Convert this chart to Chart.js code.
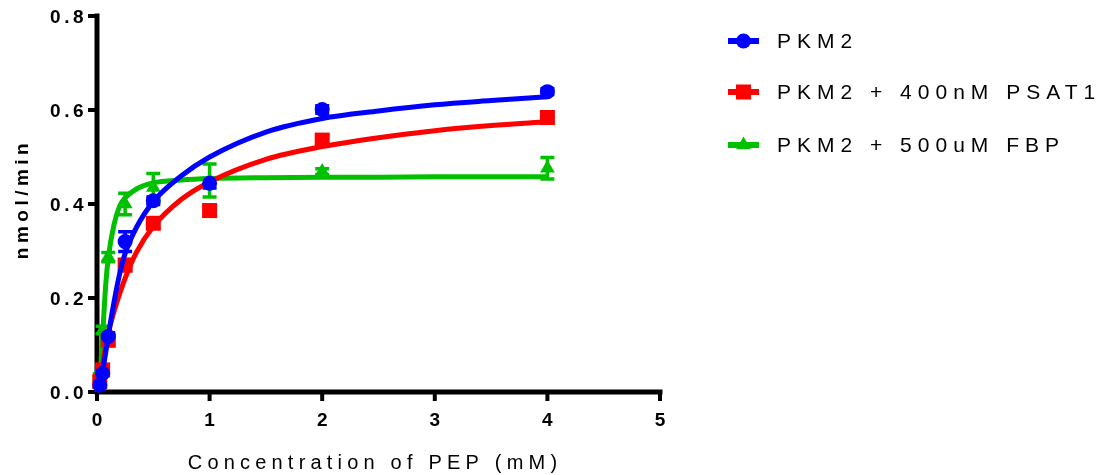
<!DOCTYPE html>
<html>
<head>
<meta charset="utf-8">
<script src="https://cdn.jsdelivr.net/npm/chart.js@4/dist/chart.umd.min.js"></script>
<style>
  html, body { margin: 0; padding: 0; background: #fff; }
  canvas { display: block; }
</style>
</head>
<body>
<canvas id="kinetics" width="1104" height="475"></canvas>
<script>
const pepConc = [0.025, 0.05, 0.1, 0.25, 0.5, 1, 2, 4];

const pkm2Rate = [0.015, 0.040, 0.118, 0.320, 0.407, 0.444, 0.601, 0.639];
const pkm2Err = [0.004, 0.005, 0.008, 0.021, 0.008, 0.010, 0.008, 0.006];

const psat1Rate = [0.022, 0.047, 0.110, 0.270, 0.359, 0.386, 0.536, 0.584];
const psat1Err = [0.004, 0.006, 0.010, 0.012, 0.010, 0.012, 0.010, 0.012];

const fbpRate = [0.035, 0.132, 0.287, 0.400, 0.435, 0.450, 0.469, 0.476];
const fbpErr = [0.004, 0.008, 0.010, 0.023, 0.030, 0.035, 0.006, 0.023];

// fitted curves
const fitConc = [0, 0.025, 0.05, 0.075, 0.1, 0.15, 0.2, 0.25, 0.35, 0.5, 0.75, 1, 1.5, 2, 2.5, 3, 3.5, 4];
const pkm2Fit = [0, 0.018, 0.045, 0.080, 0.120, 0.190, 0.250, 0.295, 0.350, 0.405, 0.460, 0.500, 0.553, 0.582, 0.598, 0.611, 0.620, 0.628];
const psat1Fit = [0, 0.020, 0.060, 0.095, 0.125, 0.170, 0.208, 0.242, 0.297, 0.352, 0.410, 0.447, 0.495, 0.522, 0.541, 0.556, 0.567, 0.575];
const fbpFit = [0, 0.030, 0.120, 0.220, 0.285, 0.355, 0.395, 0.413, 0.432, 0.445, 0.451, 0.454, 0.456, 0.457, 0.457, 0.458, 0.458, 0.458];

const seriesLabels = ['PKM2', 'PKM2 + 400nM PSAT1', 'PKM2 + 500uM FBP'];
const seriesColors = ['#0000FF', '#FF0000', '#00C000'];
const seriesShapes = ['circle', 'rect', 'triangle'];
const shapeRadius = [7.5, 10.6, 8.5];

const xTicks = [0, 1, 2, 3, 4, 5];
const yTicks = [0, 0.2, 0.4, 0.6, 0.8];
const xTitle = 'Concentration of PEP (mM)';
const yTitle = 'nmol/min';

const FONT = '"Liberation Sans", Arial, sans-serif';

function pts(xs, ys) {
    return xs.map((x, i) => ({ x: x, y: ys[i] }));
}

const rates = [pkm2Rate, psat1Rate, fbpRate];
const errs = [pkm2Err, psat1Err, fbpErr];
const fits = [pkm2Fit, psat1Fit, fbpFit];

const datasets = [];
seriesLabels.forEach((label, i) => {
    // points first so they sit above their own curve
    datasets.push({
        label: label,
        isPoints: true,
        data: pts(pepConc, rates[i]),
        errors: errs[i],
        showLine: false,
        pointStyle: seriesShapes[i],
        pointRadius: shapeRadius[i],
        pointBackgroundColor: seriesColors[i],
        pointBorderWidth: 0,
        borderColor: seriesColors[i],
        clip: false
    });
    datasets.push({
        label: label + ' fit',
        data: pts(fitConc, fits[i]),
        showLine: true,
        borderColor: seriesColors[i],
        borderWidth: 5,
        pointRadius: 0,
        cubicInterpolationMode: 'monotone',
        clip: false
    });
});

const decor = {
    id: 'decor',
    beforeDatasetsDraw(chart) {
        const { ctx, scales: { x, y } } = chart;
        const x0 = x.getPixelForValue(0);
        const y0 = y.getPixelForValue(0);
        ctx.save();
        ctx.strokeStyle = '#000';
        ctx.lineCap = 'butt';

        // axis lines
        ctx.lineWidth = 5;
        ctx.beginPath();
        ctx.moveTo(x0, y.getPixelForValue(0.8) - 2.5);
        ctx.lineTo(x0, y0 + 2.5);
        ctx.moveTo(x0 - 2.5, y0);
        ctx.lineTo(x.getPixelForValue(5) + 2.5, y0);
        ctx.stroke();

        // tick marks
        ctx.lineWidth = 4;
        ctx.beginPath();
        yTicks.forEach(v => {
            const py = y.getPixelForValue(v);
            ctx.moveTo(x0 - 9, py);
            ctx.lineTo(x0, py);
        });
        xTicks.forEach(v => {
            const px = x.getPixelForValue(v);
            ctx.moveTo(px, y0);
            ctx.lineTo(px, y0 + 9);
        });
        ctx.stroke();

        // error bars
        chart.data.datasets.forEach(ds => {
            if (!ds.errors) return;
            ctx.strokeStyle = ds.borderColor;
            ctx.lineWidth = 3.5;
            ds.data.forEach((p, i) => {
                const e = ds.errors[i];
                const px = x.getPixelForValue(p.x);
                const top = y.getPixelForValue(p.y + e);
                const bot = y.getPixelForValue(p.y - e);
                ctx.beginPath();
                ctx.moveTo(px, top);
                ctx.lineTo(px, bot);
                ctx.moveTo(px - 7, top);
                ctx.lineTo(px + 7, top);
                ctx.moveTo(px - 7, bot);
                ctx.lineTo(px + 7, bot);
                ctx.stroke();
            });
        });
        ctx.restore();
    },
    afterDraw(chart) {
        const { ctx, scales: { x, y } } = chart;
        const x0 = x.getPixelForValue(0);
        const y0 = y.getPixelForValue(0);
        ctx.save();
        ctx.fillStyle = '#000';

        // tick labels
        ctx.font = 'bold 19px ' + FONT;
        ctx.letterSpacing = '3.5px';
        ctx.textAlign = 'right';
        ctx.textBaseline = 'middle';
        yTicks.forEach(v => {
            ctx.fillText(v.toFixed(1), x0 - 10, y.getPixelForValue(v) + 2);
        });
        ctx.letterSpacing = '0px';
        ctx.textAlign = 'center';
        xTicks.forEach(v => {
            ctx.fillText(String(v), x.getPixelForValue(v), y0 + 29);
        });

        // axis titles
        ctx.font = '20px ' + FONT;
        ctx.letterSpacing = '5.2px';
        ctx.fillText(xTitle, 375, 463);

        ctx.save();
        ctx.translate(23, 199);
        ctx.rotate(-Math.PI / 2);
        ctx.font = 'bold 19px ' + FONT;
        ctx.letterSpacing = '4.5px';
        ctx.fillText(yTitle, 0, 0);
        ctx.restore();

        // legend
        const rowY = [41, 92, 145];
        chart.data.datasets.filter(ds => ds.isPoints).forEach((ds, k) => {
            const ly = rowY[k];
            ctx.strokeStyle = ds.borderColor;
            ctx.lineWidth = 6;
            ctx.beginPath();
            ctx.moveTo(728, ly);
            ctx.lineTo(759, ly);
            ctx.stroke();
            ctx.fillStyle = ds.pointBackgroundColor;
            Chart.helpers.drawPoint(ctx, {
                pointStyle: ds.pointStyle,
                radius: ds.pointRadius,
                rotation: 0,
                borderWidth: 0
            }, 743.5, ly);
            ctx.fillStyle = '#000';
            ctx.font = '21px ' + FONT;
            ctx.letterSpacing = '6px';
            ctx.textAlign = 'left';
            ctx.textBaseline = 'middle';
            ctx.fillText(ds.label, 777, ly + 1);
        });
        ctx.restore();
    }
};

new Chart(document.getElementById('kinetics').getContext('2d'), {
    type: 'scatter',
    data: { datasets: datasets },
    options: {
        responsive: false,
        animation: false,
        devicePixelRatio: 1,
        layout: { padding: { left: 97, right: 444, top: 16, bottom: 83 } },
        plugins: {
            legend: { display: false },
            tooltip: { enabled: false }
        },
        scales: {
            x: { type: 'linear', min: 0, max: 5, display: false },
            y: { type: 'linear', min: 0, max: 0.8, display: false }
        }
    },
    plugins: [decor]
});
</script>
</body>
</html>
